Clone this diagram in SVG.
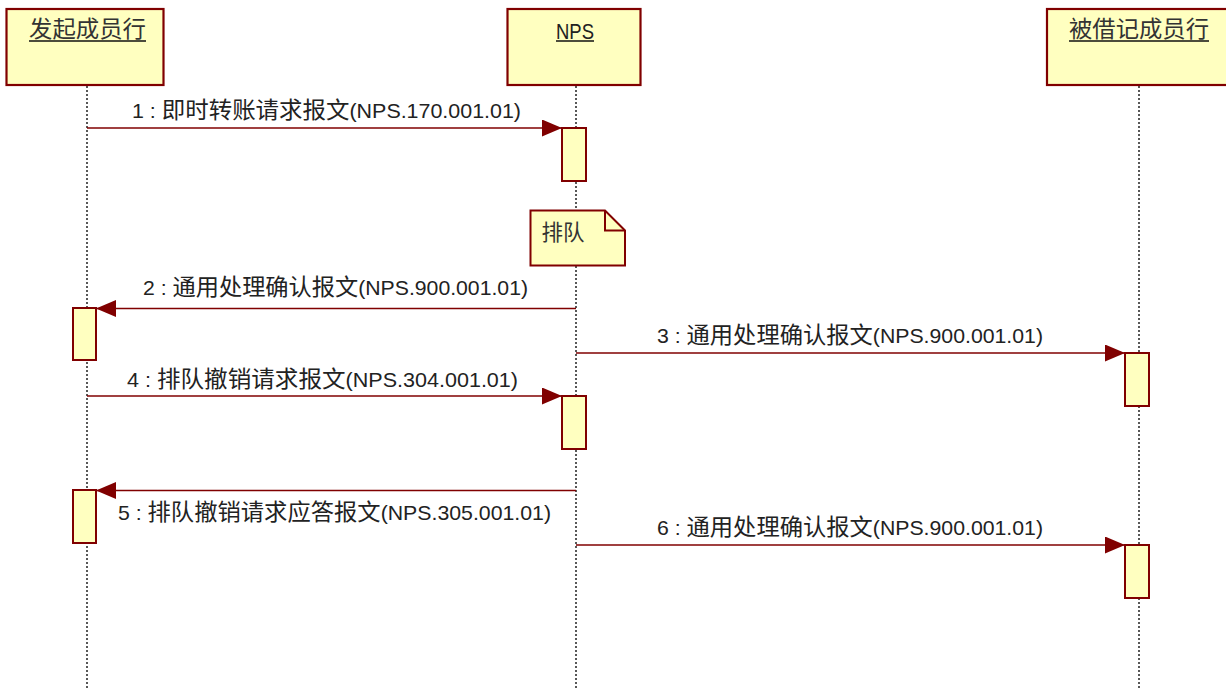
<svg xmlns="http://www.w3.org/2000/svg" width="1226" height="689" viewBox="0 0 1226 689">
<style>
.box{fill:#FFFFC0;stroke:#800000;stroke-width:2.2}
.act{fill:#FFFFC0;stroke:#800000;stroke-width:2}
.life{stroke:#222;stroke-width:1.5;stroke-dasharray:2 2;fill:none}
.msg{stroke:#800000;stroke-width:1.6;fill:none;marker-end:url(#arr)}
.title{font-family:"Noto Sans CJK SC","Liberation Sans",sans-serif;font-size:23px;fill:#333;text-anchor:middle}
.ttl{font-family:"Liberation Sans","Noto Sans CJK SC",sans-serif;font-size:22px;fill:#222;text-anchor:middle}
.ul{stroke:#111;stroke-width:1.6}
.lbl{font-family:"Liberation Sans","Noto Sans CJK SC",sans-serif;font-size:21px;fill:#222;text-anchor:middle}
.cjk{font-family:"Noto Sans CJK SC",sans-serif;font-size:23px}
.note{fill:#FFFFC0;stroke:#800000;stroke-width:2}
.notet{font-family:"Noto Sans CJK SC",sans-serif;font-size:22px;fill:#333}
</style>
<defs>
<marker id="arr" markerUnits="userSpaceOnUse" markerWidth="20" markerHeight="17" refX="20" refY="8.5" orient="auto">
<path d="M0,0 L20,8.5 L0,17 Z" fill="#800000"/>
</marker>
</defs>
<rect width="1226" height="689" fill="#fff"/>
<g id="lifelines">
<line class="life" x1="87" y1="86" x2="87" y2="689"/>
<line class="life" x1="576" y1="86" x2="576" y2="689"/>
<line class="life" x1="1139" y1="86" x2="1139" y2="689"/>
</g>
<g id="p1">
<rect class="box" x="6.5" y="9" width="157" height="76"/>
<text class="title" x="87.5" y="37" textLength="117" lengthAdjust="spacingAndGlyphs">发起成员行</text>
<line class="ul" x1="29" y1="41" x2="146" y2="41"/>
</g>
<g id="p2">
<rect class="box" x="507.5" y="9" width="133" height="76"/>
<text class="ttl" transform="translate(575,39) scale(0.84,1)" x="0" y="0">NPS</text>
<line class="ul" x1="556" y1="41" x2="594" y2="41"/>
</g>
<g id="p3">
<rect class="box" x="1047" y="9" width="200" height="76"/>
<text class="title" x="1139" y="37" textLength="140" lengthAdjust="spacingAndGlyphs">被借记成员行</text>
<line class="ul" x1="1069" y1="41" x2="1209" y2="41"/>
</g>
<g id="activations">
<rect class="act" x="562" y="128" width="24" height="53"/>
<rect class="act" x="73" y="308" width="23" height="52"/>
<rect class="act" x="1125" y="353" width="24" height="53"/>
<rect class="act" x="562" y="396" width="24" height="53"/>
<rect class="act" x="73" y="490" width="23" height="53"/>
<rect class="act" x="1125" y="545" width="24" height="53"/>
</g>
<g id="note">
<path class="note" d="M530.5,210.5 L605,210.5 L625,230.5 L625,265.5 L530.5,265.5 Z"/>
<path d="M605,210.5 L605,230.5 L625,230.5" fill="none" stroke="#800000" stroke-width="2"/>
<text class="notet" x="541.5" y="240" textLength="43" lengthAdjust="spacingAndGlyphs">排队</text>
</g>
<g id="connectors">
<line class="msg" x1="87" y1="128" x2="562" y2="128"/>
<line class="msg" x1="576" y1="308.5" x2="96" y2="308.5"/>
<line class="msg" x1="576" y1="353" x2="1125" y2="353"/>
<line class="msg" x1="87" y1="396" x2="562" y2="396"/>
<line class="msg" x1="576" y1="490.5" x2="96" y2="490.5"/>
<line class="msg" x1="576" y1="545" x2="1125" y2="545"/>
</g>
<g id="labels">
<text class="lbl" x="326.5" y="118" textLength="389" lengthAdjust="spacingAndGlyphs">1 : <tspan class="cjk">即时转账请求报文</tspan>(NPS.170.001.01)</text>
<text class="lbl" x="335.5" y="295" textLength="385" lengthAdjust="spacingAndGlyphs">2 : <tspan class="cjk">通用处理确认报文</tspan>(NPS.900.001.01)</text>
<text class="lbl" x="850" y="343" textLength="386" lengthAdjust="spacingAndGlyphs">3 : <tspan class="cjk">通用处理确认报文</tspan>(NPS.900.001.01)</text>
<text class="lbl" x="322.5" y="387" textLength="391" lengthAdjust="spacingAndGlyphs">4 : <tspan class="cjk">排队撤销请求报文</tspan>(NPS.304.001.01)</text>
<text class="lbl" x="334.5" y="520" textLength="433" lengthAdjust="spacingAndGlyphs">5 : <tspan class="cjk">排队撤销请求应答报文</tspan>(NPS.305.001.01)</text>
<text class="lbl" x="850" y="535" textLength="386" lengthAdjust="spacingAndGlyphs">6 : <tspan class="cjk">通用处理确认报文</tspan>(NPS.900.001.01)</text>
</g>
</svg>
